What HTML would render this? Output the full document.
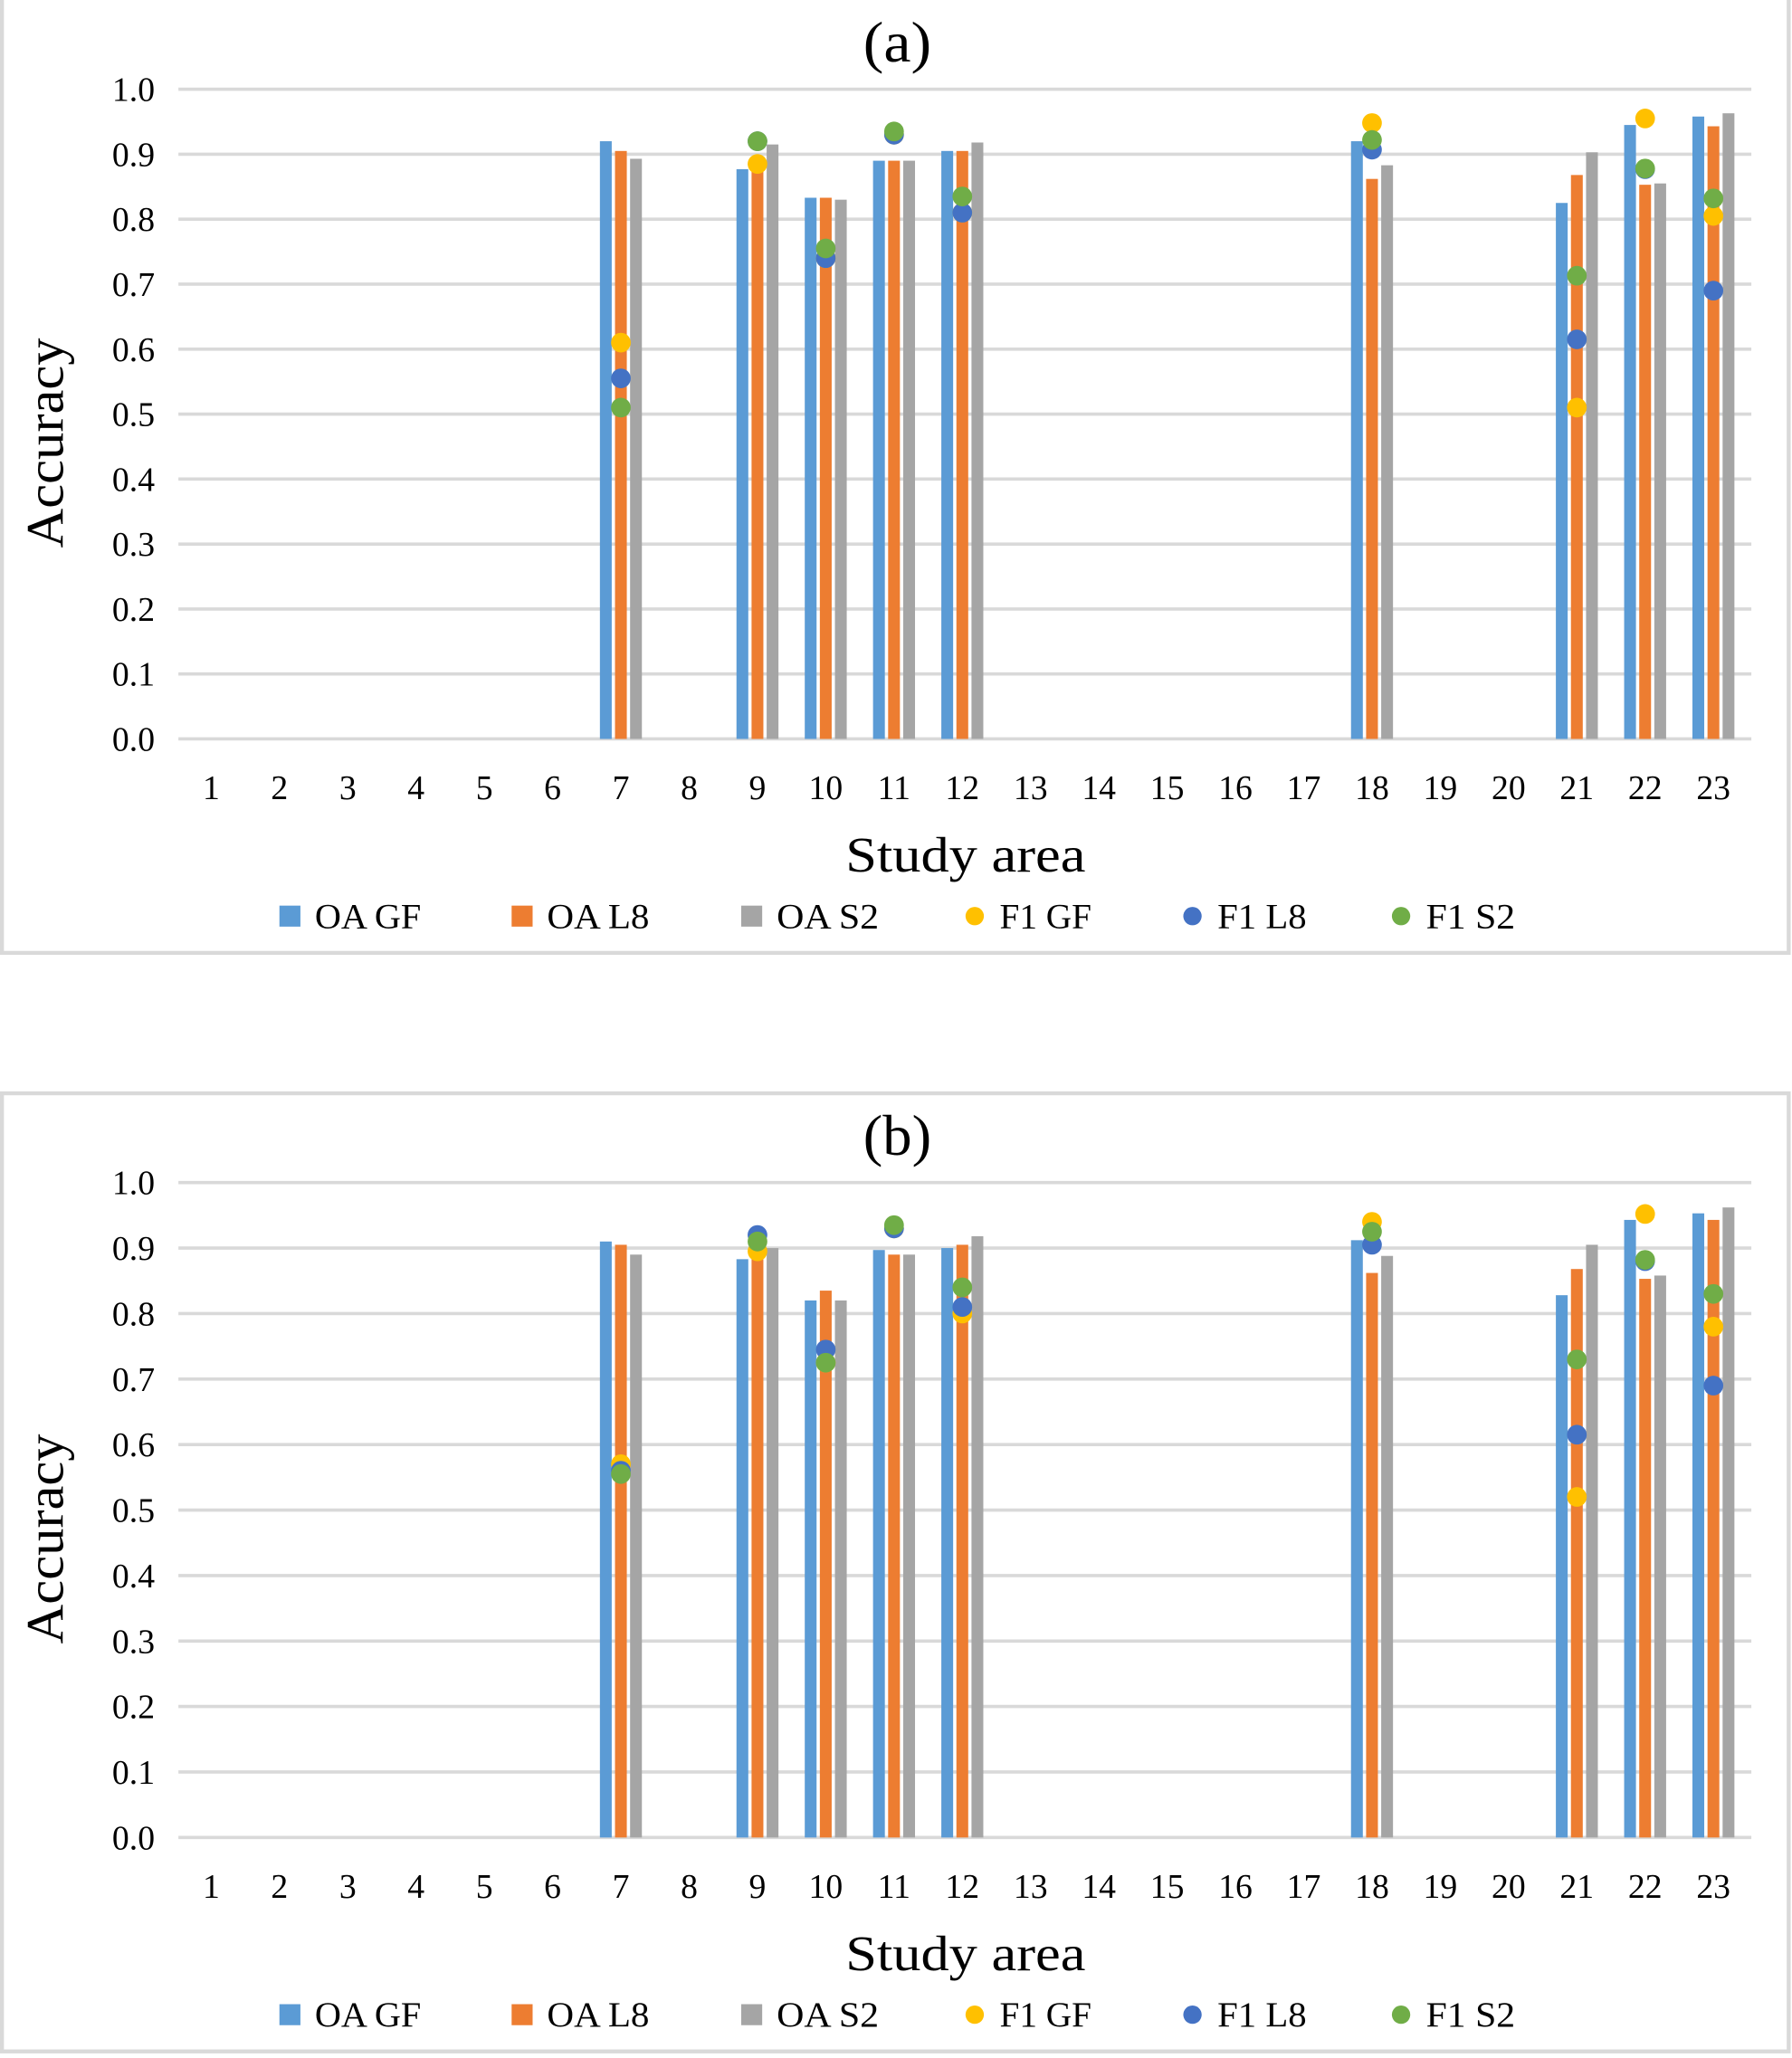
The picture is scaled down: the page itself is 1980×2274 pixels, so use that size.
<!DOCTYPE html>
<html><head><meta charset="utf-8">
<style>html,body{margin:0;padding:0;background:#fff;width:1980px;height:2274px;overflow:hidden}svg{display:block}text{font-family:"Liberation Serif",serif;fill:#000}</style>
</head><body>
<svg id="s" width="1980" height="2274" viewBox="0 0 1366 1568" preserveAspectRatio="none" xmlns="http://www.w3.org/2000/svg"></svg>
<script>
var C={ga:'#5B9BD5',la:'#ED7D31',sa:'#A5A5A5',gf:'#FFC000',lf:'#4472C4',sf:'#70AD47'};
var A={7:[.92,.905,.893,.61,.555,.51],9:[.877,.89,.915,.885,.92,.92],10:[.833,.833,.83,.74,.74,.755],11:[.89,.89,.89,.93,.93,.935],12:[.905,.905,.918,.81,.81,.835],18:[.92,.862,.883,.948,.907,.922],21:[.825,.868,.903,.51,.615,.713],22:[.945,.853,.855,.955,.877,.878],23:[.958,.943,.963,.805,.69,.832]};
var B={7:[.91,.905,.89,.57,.56,.555],9:[.883,.905,.9,.895,.92,.91],10:[.82,.835,.82,.725,.745,.725],11:[.897,.89,.89,.93,.93,.935],12:[.9,.905,.918,.80,.81,.84],18:[.912,.862,.888,.94,.905,.925],21:[.828,.868,.905,.52,.615,.73],22:[.943,.853,.858,.952,.88,.882],23:[.953,.943,.962,.78,.69,.83]};
var h='';
function chart(top,bot,y1,y0,title,data){
 h+='<rect x="1.5" y="'+top+'" width="1362" height="'+(bot-top)+'" fill="none" stroke="#d9d9d9" stroke-width="3"/>';
 h+='<text x="684" y="'+(y1-21)+'" font-size="44" text-anchor="middle" textLength="52" lengthAdjust="spacingAndGlyphs">'+title+'</text>';
 var d=(y0-y1)/10;
 for(var i=0;i<=10;i++){var y=y1+i*d;
  h+='<line x1="136" x2="1335" y1="'+y+'" y2="'+y+'" stroke="#d9d9d9" stroke-width="2.5"/>';
  h+='<text x="118" y="'+(y+9)+'" font-size="26" text-anchor="end">'+(1-i/10).toFixed(1)+'</text>';}
 for(var k=1;k<=23;k++){var cx=161+(k-1)*52.05;
  h+='<text x="'+cx+'" y="'+(y0+46)+'" font-size="26" text-anchor="middle">'+k+'</text>';
  var v=data[k]; if(!v)continue;
  var cs=[C.ga,C.la,C.sa];
  for(var j=0;j<3;j++){var bx=cx-16+j*11.5;var by=y0-v[j]*d*10;
   h+='<rect x="'+bx+'" y="'+by+'" width="9" height="'+(y0-by)+'" fill="'+cs[j]+'"/>';}
  var ds=[C.gf,C.lf,C.sf];
  for(var j=0;j<3;j++){h+='<circle cx="'+cx+'" cy="'+(y0-v[3+j]*d*10)+'" r="7.5" fill="'+ds[j]+'"/>';}
 }
 var my=(y1+y0)/2+22;
 h+='<text x="48" y="'+my+'" font-size="40" text-anchor="middle" textLength="160" lengthAdjust="spacingAndGlyphs" transform="rotate(-90 48 '+my+')">Accuracy</text>';
 h+='<text x="736" y="'+(y0+101)+'" font-size="38" text-anchor="middle" textLength="183" lengthAdjust="spacingAndGlyphs">Study area</text>';
 var ly=y0+135;
 var L=[[213,'OA GF',C.ga,0,81],[390,'OA L8',C.la,0,78],[565,'OA S2',C.sa,0,78],[735,'F1 GF',C.gf,1,70],[901,'F1 L8',C.lf,1,68],[1060,'F1 S2',C.sf,1,68]];
 L.forEach(function(l){
  if(l[3])h+='<circle cx="'+(l[0]+8)+'" cy="'+ly+'" r="7" fill="'+l[2]+'"/>';
  else h+='<rect x="'+l[0]+'" y="'+(ly-8)+'" width="16" height="16" fill="'+l[2]+'"/>';
  h+='<text x="'+(l[0]+27)+'" y="'+(ly+9)+'" font-size="27" textLength="'+l[4]+'" lengthAdjust="spacingAndGlyphs">'+l[1]+'</text>';});
}
chart(-2,726,68,563,'(a)',A);
chart(833,1563,901,1400,'(b)',B);
document.getElementById('s').innerHTML=h;
</script>
</body></html>
